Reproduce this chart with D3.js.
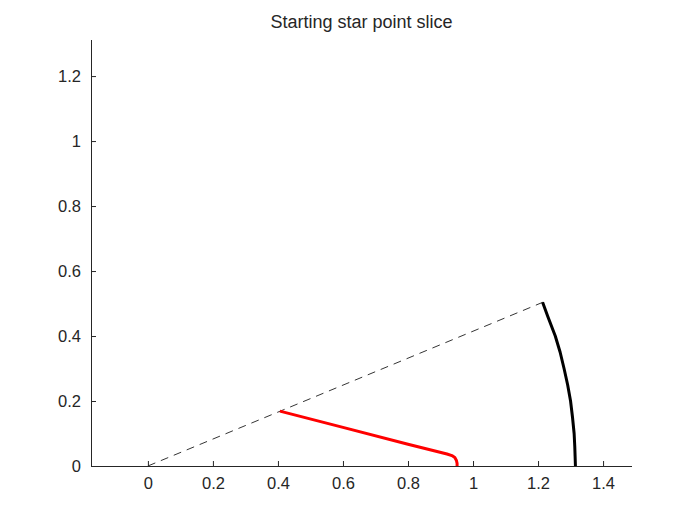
<!DOCTYPE html>
<html>
<head>
<meta charset="utf-8">
<script src="https://cdn.jsdelivr.net/npm/d3@7"></script>
<style>
  html, body { margin: 0; padding: 0; background: #fff; }
  svg { display: block; }
  text { font-family: "Liberation Sans", Arial, Helvetica, sans-serif; fill: #262626; }
</style>
</head>
<body>
<svg id="chart" width="700" height="525"></svg>
<script>
// ---- data ----
const chartTitle = "Starting star point slice";
const xTicks = [0, 0.2, 0.4, 0.6, 0.8, 1, 1.2, 1.4];
const yTicks = [0, 0.2, 0.4, 0.6, 0.8, 1, 1.2];
const xDomain = [-0.175, 1.489];
const yDomain = [0, 1.311];

// dashed ray from origin
const rayX = [0, 1.215];
const rayY = [0, 0.504];

// black outer arc
const arcX = [1.214, 1.230, 1.253, 1.268, 1.280, 1.291, 1.300, 1.306, 1.311, 1.313, 1.314, 1.315];
const arcY = [0.504, 0.460, 0.400, 0.350, 0.300, 0.250, 0.200, 0.150, 0.100, 0.060, 0.030, 0.000];

// red slice
const redX = [0.406, 0.600, 0.800, 0.920, 0.935, 0.944, 0.949, 0.951, 0.951];
const redY = [0.169, 0.119, 0.067, 0.037, 0.032, 0.026, 0.017, 0.008, 0.000];

// ---- drawing ----
const svg = d3.select("#chart");
const mLeft = 91, mRight = 632, mTop = 40, mBottom = 466;

const x = d3.scaleLinear().domain(xDomain).range([mLeft, mRight]);
const y = d3.scaleLinear().domain(yDomain).range([mBottom, mTop]);

const line = d3.line().x(d => x(d[0])).y(d => y(d[1]));

// dashed ray
svg.append("path")
  .datum(d3.zip(rayX, rayY))
  .attr("d", line)
  .attr("fill", "none")
  .attr("stroke", "#000")
  .attr("stroke-width", 0.8)
  .attr("stroke-dasharray", "8,6");

// black arc
svg.append("path")
  .datum(d3.zip(arcX, arcY))
  .attr("d", line)
  .attr("fill", "none")
  .attr("stroke", "#000")
  .attr("stroke-width", 3)
  .attr("stroke-linejoin", "round");

// red slice
svg.append("path")
  .datum(d3.zip(redX, redY))
  .attr("d", line)
  .attr("fill", "none")
  .attr("stroke", "#ff0000")
  .attr("stroke-width", 3)
  .attr("stroke-linejoin", "round");

// axes
const xAxis = d3.axisBottom(x).tickValues(xTicks).tickSizeInner(-5).tickSizeOuter(0)
  .tickPadding(11).tickFormat(d3.format("~g"));
const yAxis = d3.axisLeft(y).tickValues(yTicks).tickSizeInner(-5).tickSizeOuter(0)
  .tickPadding(10).tickFormat(d3.format("~g"));

const gx = svg.append("g").attr("transform", `translate(0,${mBottom})`).call(xAxis);
const gy = svg.append("g").attr("transform", `translate(${mLeft},0)`).call(yAxis);

[gx, gy].forEach(g => {
  g.select(".domain").attr("stroke", "#262626").attr("stroke-width", 1);
  g.selectAll(".tick line").attr("stroke", "#262626").attr("stroke-width", 1);
  g.selectAll(".tick text")
    .style("font-family", '"Liberation Sans", Arial, sans-serif')
    .style("font-size", "16.5px")
    .attr("fill", "#262626");
});
gx.select(".domain").attr("d", `M${mLeft},0.5H${mRight}`);
gy.select(".domain").attr("d", `M0.5,${mBottom}V${mTop}`);

// title
svg.append("text")
  .attr("x", (mLeft + mRight) / 2)
  .attr("y", 28)
  .attr("text-anchor", "middle")
  .style("font-size", "18px")
  .attr("fill", "#000")
  .text(chartTitle);
</script>
</body>
</html>
